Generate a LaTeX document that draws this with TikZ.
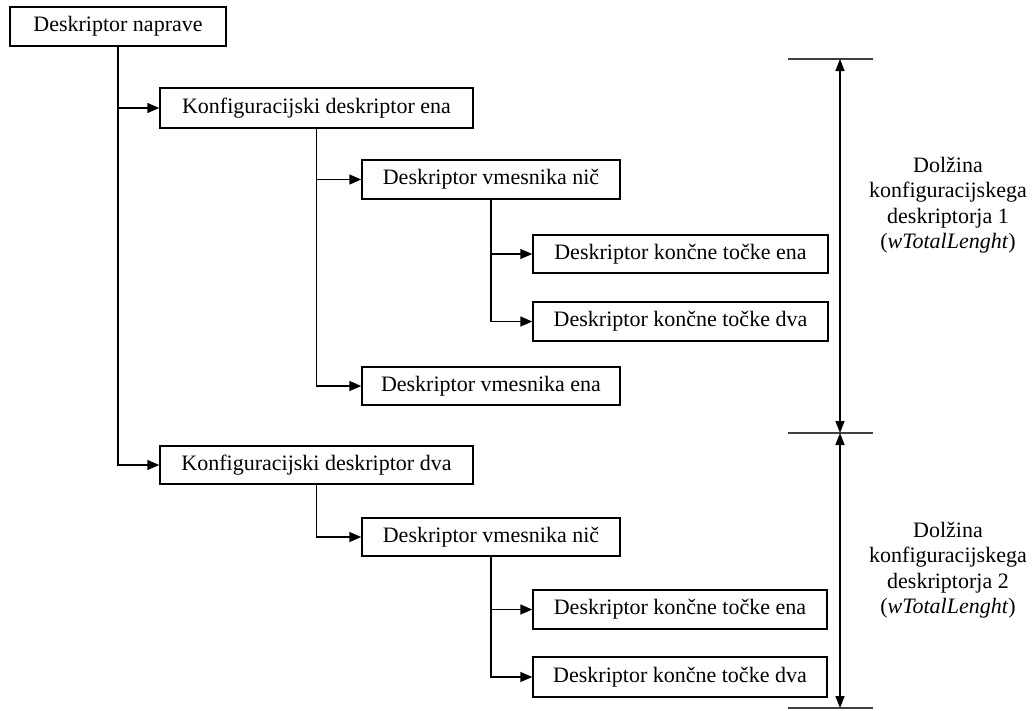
\documentclass[tikz,border=0pt]{standalone}
\usepackage{fontspec}
\setmainfont{Liberation Serif}
\usetikzlibrary{arrows.meta}
\begin{document}
\begin{tikzpicture}[x=1pt,y=-1pt,
  desc/.style={draw, line width=1.5pt, inner sep=0pt, align=center,
    font=\fontsize{22}{26}\selectfont},
  link/.style={line width=1.5pt, -{Triangle[length=12pt,width=10pt]}},
  dim/.style={line width=1.5pt, {Triangle[length=12pt,width=9pt]}-{Triangle[length=12pt,width=9pt]}},
  tick/.style={line width=1.5pt, black!75},
  note/.style={align=center, font=\fontsize{22}{25.5}\selectfont}]
\useasboundingbox (0,0) rectangle (1033,710);

% descriptor boxes: centre, width, height
\node[desc, minimum width=216pt, minimum height=39pt] (dev)  at (118,26.5)  {Deskriptor naprave};
\node[desc, minimum width=313pt, minimum height=40pt] (cfg1) at (316.5,108) {Konfiguracijski deskriptor ena};
\node[desc, minimum width=258pt, minimum height=39pt] (if10) at (491,179.5) {Deskriptor vmesnika nič};
\node[desc, minimum width=295pt, minimum height=38pt] (ep11) at (680.5,254) {Deskriptor končne točke ena};
\node[desc, minimum width=295pt, minimum height=39pt] (ep12) at (680.5,321.5) {Deskriptor končne točke dva};
\node[desc, minimum width=258pt, minimum height=38pt] (if11) at (491,386) {Deskriptor vmesnika ena};
\node[desc, minimum width=313pt, minimum height=38pt] (cfg2) at (316.5,465) {Konfiguracijski deskriptor dva};
\node[desc, minimum width=258pt, minimum height=38pt] (if20) at (491,537) {Deskriptor vmesnika nič};
\node[desc, minimum width=294pt, minimum height=39pt] (ep21) at (680,609.5) {Deskriptor končne točke ena};
\node[desc, minimum width=294pt, minimum height=40pt] (ep22) at (680,677) {Deskriptor končne točke dva};

% tree connectors
\draw[link] (dev.south)  |- (cfg1.west);
\draw[link] (dev.south)  |- (cfg2.west);
\draw[link] (cfg1.south) |- (if10.west);
\draw[link] (cfg1.south) |- (if11.west);
\draw[link] (if10.south) |- (ep11.west);
\draw[link] (if10.south) |- (ep12.west);
\draw[link] (cfg2.south) |- (if20.west);
\draw[link] (if20.south) |- (ep21.west);
\draw[link] (if20.south) |- (ep22.west);

% length markers on the right
\coordinate (m1) at (840,59);
\coordinate (m2) at (840,433);
\coordinate (m3) at (840,708);
\draw[tick] ([xshift=-52pt]m1) -- ([xshift=33pt]m1);
\draw[tick] ([xshift=-52pt]m2) -- ([xshift=33pt]m2);
\draw[tick] ([xshift=-52pt]m3) -- ([xshift=33pt]m3);
\draw[dim] (m1) -- (m2);
\draw[dim] (m2) -- (m3);

\node[note] (len1) at (948,205) {Dolžina\\konfiguracijskega\\deskriptorja 1\\(\textit{wTotalLenght})};
\node[note] (len2) at (948,570) {Dolžina\\konfiguracijskega\\deskriptorja 2\\(\textit{wTotalLenght})};
\end{tikzpicture}
\end{document}
